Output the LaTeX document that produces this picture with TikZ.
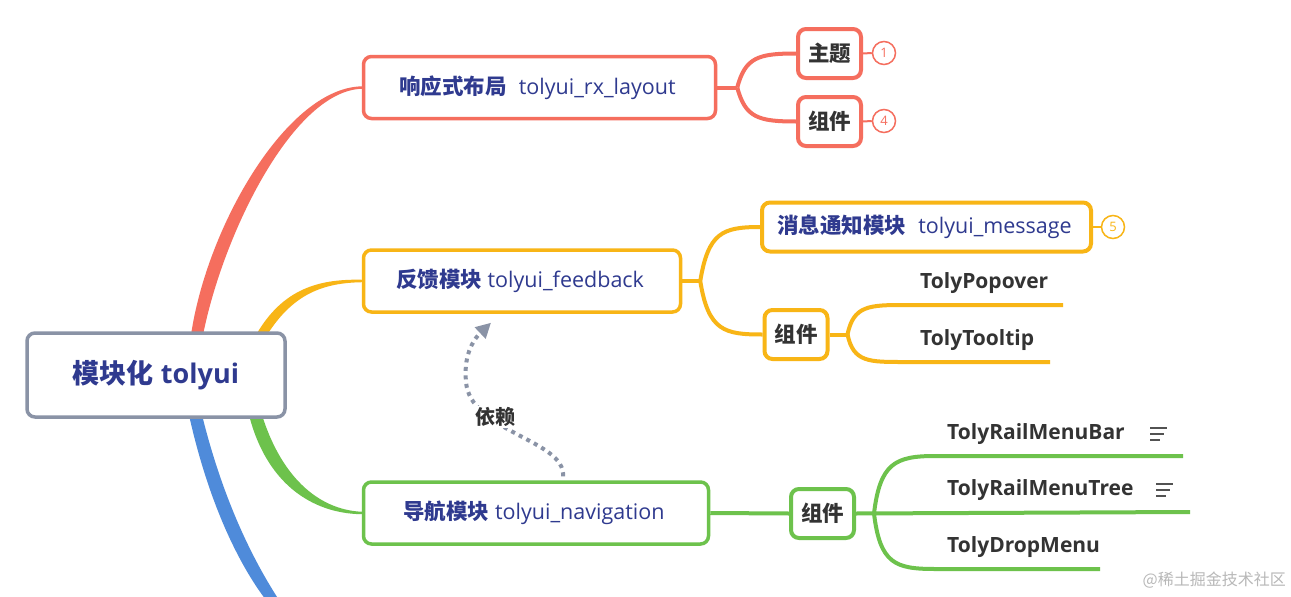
\documentclass[tikz,border=0pt]{standalone}
\usepackage{fontspec}
\setmainfont{Open Sans}
\newfontfamily\cjk{Noto Sans CJK SC}
\usetikzlibrary{arrows.meta,calc,backgrounds}
\definecolor{cred}{HTML}{F56E5E}
\definecolor{cyel}{HTML}{F8B516}
\definecolor{cgrn}{HTML}{6DC24C}
\definecolor{cblu}{HTML}{4F8BDA}
\definecolor{cgray}{HTML}{8A93A6}
\definecolor{ctext}{HTML}{2F3A8F}
\definecolor{cleaf}{HTML}{333333}
\tikzset{
  box/.style={draw, line width=3.5pt, rounded corners=8pt, fill=white, inner sep=0pt, align=center},
  lone/.style={box, text=ctext, minimum height=62, font=\fontsize{21.5}{24}\selectfont},
  ltwo/.style={box, line width=4pt, text=cleaf, minimum width=63, minimum height=49, font=\fontsize{21.5}{24}\selectfont\bfseries\cjk},
  leaf/.style={text=cleaf, inner sep=0pt, anchor=west, font=\fontsize{21}{24}\selectfont\bfseries},
  badge/.style={circle, draw, line width=1.5pt, fill=white, minimum size=23, inner sep=0pt, font=\fontsize{13}{13}\selectfont},
  conn/.style={line width=4pt},
  menuicon/.style={line width=1.6pt, draw=cleaf!85}
}
\begin{document}
\begin{tikzpicture}[x=1pt,y=-1pt]
\useasboundingbox (0,0) rectangle (1291,597);
\begin{scope}[on background layer]
\fill[white] (0,0) rectangle (1291,597);
\end{scope}

% root
\node[box, draw=cgray, minimum width=258, minimum height=84, text=ctext,
      font=\fontsize{27}{30}\selectfont\bfseries] (root) at (156,375) {{\cjk 模块化} tolyui};

% level 1
\node[lone, draw=cred, minimum width=352] (R1) at (539.5,87.5) {{\cjk\bfseries 响应式布局}\hspace{12pt}tolyui\_rx\_layout\hspace{4pt}};
\node[lone, draw=cyel, minimum width=317] (Y1) at (522,281) {{\cjk\bfseries 反馈模块} tolyui\_feedback\hspace{4pt}};
\node[lone, draw=cgrn, minimum width=345] (G1) at (536,513) {{\cjk\bfseries 导航模块} tolyui\_navigation\hspace{4pt}};

% red children
\node[ltwo, draw=cred] (Rt) at (829.5,53.5) {主题};
\node[ltwo, draw=cred] (Rc) at (829.5,121.5) {组件};
\node[badge, draw=cred, text=cred] (b1) at (884,53) {1};
\node[badge, draw=cred, text=cred] (b4) at (884,121) {4};

% yellow children
\node[lone, draw=cyel, line width=4pt, minimum width=329, minimum height=49] (Ym) at (926.5,227) {{\cjk\bfseries 消息通知模块}\hspace{12pt}tolyui\_message\hspace{4pt}};
\node[ltwo, draw=cyel] (Yc) at (796,334.5) {组件};
\node[badge, draw=cyel, text=cyel] (b5) at (1113,227) {5};

% green children
\node[ltwo, draw=cgrn] (Gc) at (822.5,513.5) {组件};

% leaves
\node[leaf] (p1) at (920,283) {TolyPopover};
\node[leaf] (p2) at (920,340) {TolyTooltip};
\node[leaf] (m1) at (947,434) {TolyRailMenuBar};
\node[leaf] (m2) at (947,490) {TolyRailMenuTree};
\node[leaf] (m3) at (947,547) {TolyDropMenu};

% dependency label
\node[text=cleaf, fill=white, inner sep=1pt, font=\fontsize{20}{22}\selectfont\bfseries\cjk] (dep) at (495,417) {依赖};

% watermark
\node[text=black!28, inner sep=0pt, anchor=east, font=\fontsize{16}{18}\selectfont\cjk] (wm) at (1286,580) {@稀土掘金技术社区};

\begin{scope}[on background layer]
% tapered main branches
\fill[cred] (191,335) .. controls (207,226) and (288,85.5) .. ($(R1.west)+(2,-1.2)$)
   -- ($(R1.west)+(2,1.2)$) .. controls (294,88.5) and (223,234) .. (203,335) -- cycle;
\fill[cyel] (256,335) .. controls (283,288) and (320,278.5) .. ($(Y1.west)+(2,-1.2)$)
   -- ($(Y1.west)+(2,1.2)$) .. controls (323,282.5) and (293,294) .. (267,335) -- cycle;
\fill[cgrn] (249,415) .. controls (268,489) and (318,514.5) .. ($(G1.west)+(2,1.2)$)
   -- ($(G1.west)+(2,-1.2)$) .. controls (323,511) and (283,482) .. (262,415) -- cycle;
\fill[cblu] (189,415) .. controls (209,505) and (240,566) .. (266,600)
   -- (279,600) .. controls (253,560) and (223,500) .. (202,415) -- cycle;

% red split
\coordinate (rs) at ($(R1.east)+(20,0)$);
\draw[conn, cred] (R1.east) -- (rs);
\draw[conn, cred] (rs) .. controls +(8,-30) and +(-38,0) .. (Rt.west);
\draw[conn, cred] (rs) .. controls +(8,30) and +(-38,0) .. (Rc.west);
\draw[cred, line width=2pt] (Rt.east) -- (b1.west);
\draw[cred, line width=2pt] (Rc.east) -- (b4.west);

% yellow split
\coordinate (ys) at ($(Y1.east)+(18,0)$);
\draw[conn, cyel] (Y1.east) -- (ys);
\draw[conn, cyel] (ys) .. controls +(8,-48) and +(-38,0) .. (Ym.west);
\draw[conn, cyel] (ys) .. controls +(8,50) and +(-38,0) .. (Yc.west);
\draw[cyel, line width=2pt] (Ym.east) -- (b5.west);
\coordinate (ys2) at ($(Yc.east)+(18,0)$);
\coordinate (p1e) at (1063,305);
\coordinate (p2e) at (1050,362);
\draw[conn, cyel] (Yc.east) -- (ys2);
\draw[conn, cyel] (ys2) .. controls +(6,-29) and +(-36,0) .. (905,305) -- (p1e);
\draw[conn, cyel] (ys2) .. controls +(6,28) and +(-36,0) .. (905,362) -- (p2e);

% green split
\draw[conn, cgrn] (G1.east) -- (Gc.west);
\coordinate (gs) at ($(Gc.east)+(18,0)$);
\coordinate (m1e) at (1183,456);
\coordinate (m2e) at (1190,512);
\coordinate (m3e) at (1100,569);
\draw[conn, cgrn] (Gc.east) -- (m2e);
\draw[conn, cgrn] (gs) .. controls +(6,-50) and +(-40,0) .. (935,456) -- (m1e);
\draw[conn, cgrn] (gs) .. controls +(6,50) and +(-40,0) .. (935,569) -- (m3e);

% dependency arrow
\coordinate (ds) at ($(G1.north)+(27,-4)$);
\coordinate (de) at ($(Y1.south)+(-31,9)$);
\draw[cgray, line width=4pt, dash pattern=on 4pt off 4.5pt,
      -{Triangle[length=15pt,width=15pt]}]
  (ds) .. controls (566,440) and (470,432) .. (466,382) .. controls (463,352) and (476,337) .. (de);
\end{scope}

% menu icons
\foreach \n/\x/\y in {i1/1150/428, i2/1156/484} {
  \coordinate (\n) at (\x,\y);
  \draw[menuicon] (\n) -- ++(17,0);
  \draw[menuicon] ($(\n)+(0,6)$) -- ++(14,0);
  \draw[menuicon] ($(\n)+(0,12)$) -- ++(10,0);
}
\end{tikzpicture}
\end{document}
